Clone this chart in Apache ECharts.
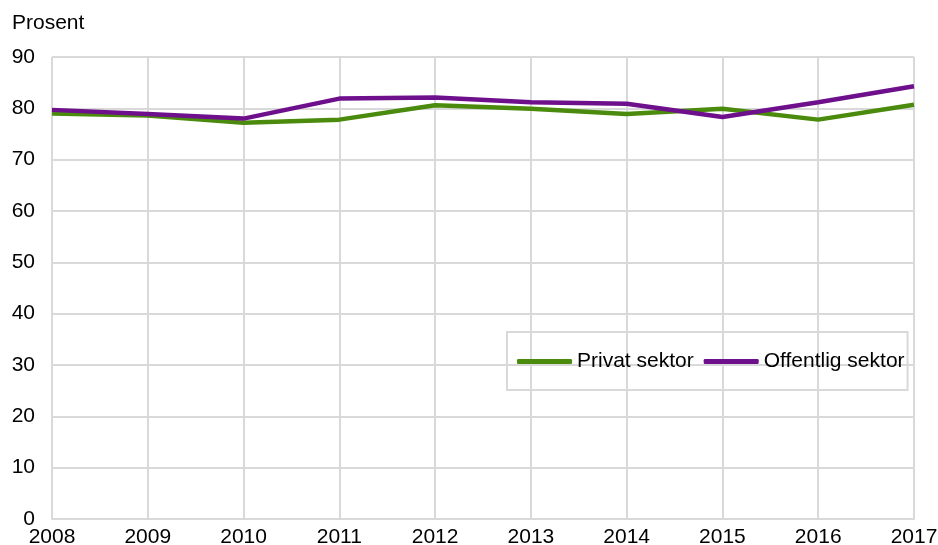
<!DOCTYPE html>
<html>
<head>
<meta charset="utf-8">
<script src="https://cdn.jsdelivr.net/npm/echarts@6/dist/echarts.min.js"></script>
<style>
  html, body { margin: 0; padding: 0; background: #fff; }
  #chart { width: 938px; height: 545px; }
</style>
</head>
<body>
<div id="chart"></div>
<script>
// Share (percent) by sector, 2008–2017
const years = ['2008', '2009', '2010', '2011', '2012', '2013', '2014', '2015', '2016', '2017'];
const privatSektor = [79.0, 78.6, 77.2, 77.8, 80.6, 79.9, 78.9, 79.9, 77.8, 80.7];
const offentligSektor = [79.7, 78.9, 78.0, 81.9, 82.1, 81.2, 80.9, 78.3, 81.2, 84.3];

const gridColor = '#d9d9d9';
const font = 'Liberation Sans, Arial, sans-serif';
const fs = 21;

const chart = echarts.init(document.getElementById('chart'), null, { renderer: 'canvas' });
chart.setOption({
  animation: false,
  backgroundColor: '#ffffff',
  textStyle: { fontFamily: font, color: '#000' },
  graphic: [{
    type: 'text',
    left: 12,
    top: 13,
    style: { text: 'Prosent', font: fs + 'px ' + font, fill: '#000' }
  }],
  grid: { left: 52, right: 24, top: 57, bottom: 26, containLabel: false, outerBoundsMode: 'none' },
  legend: {
    left: 507,
    top: 332,
    padding: [19, 3, 18, 10],
    itemGap: 10,
    itemWidth: 55,
    itemHeight: 5,
    borderColor: gridColor,
    borderWidth: 2,
    icon: 'roundRect',
    textStyle: { fontSize: fs, fontFamily: font, color: '#000' },
    data: ['Privat sektor', 'Offentlig sektor']
  },
  xAxis: {
    type: 'category',
    data: years,
    boundaryGap: false,
    axisLine: { show: true, lineStyle: { color: gridColor, width: 2 } },
    axisTick: { show: false },
    axisLabel: { fontSize: fs, color: '#000', margin: 8, fontFamily: font },
    splitLine: { show: true, lineStyle: { color: gridColor, width: 2 } }
  },
  yAxis: {
    type: 'value',
    min: 0,
    max: 90,
    interval: 10,
    axisLine: { show: false },
    axisTick: { show: false },
    axisLabel: { fontSize: fs, color: '#000', margin: 17, fontFamily: font },
    splitLine: { show: true, lineStyle: { color: gridColor, width: 2 } }
  },
  series: [
    {
      name: 'Privat sektor',
      type: 'line',
      data: privatSektor,
      showSymbol: false,
      symbol: 'none',
      color: '#4a8a0c',
      lineStyle: { width: 4.5, color: '#4a8a0c' }
    },
    {
      name: 'Offentlig sektor',
      type: 'line',
      data: offentligSektor,
      showSymbol: false,
      symbol: 'none',
      color: '#6e0f8c',
      lineStyle: { width: 4.5, color: '#6e0f8c' }
    }
  ]
});
</script>
</body>
</html>
